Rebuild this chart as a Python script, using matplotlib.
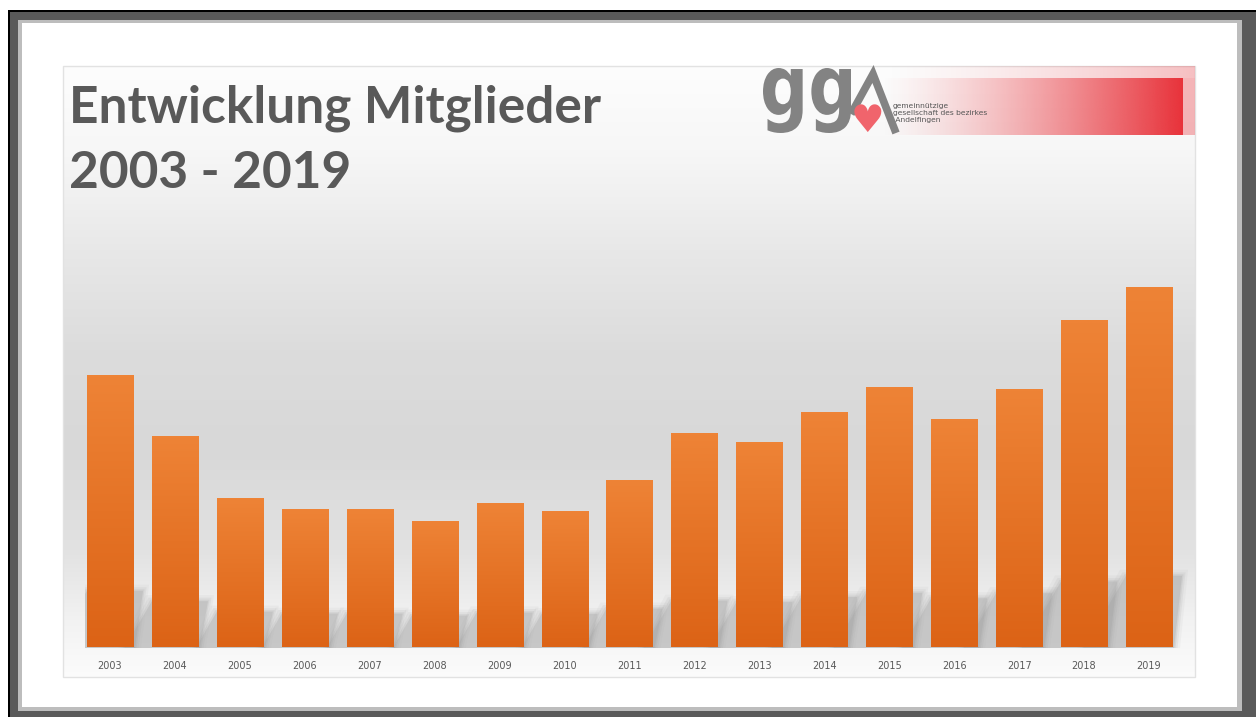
import matplotlib.pyplot as plt
import matplotlib.patches as mpatches
from matplotlib.textpath import TextPath
from matplotlib.font_manager import FontProperties
from matplotlib.transforms import Affine2D
import numpy as np

years = ["2003", "2004", "2005", "2006", "2007", "2008", "2009", "2010", "2011",
         "2012", "2013", "2014", "2015", "2016", "2017", "2018", "2019"]
# bar heights (no value axis shown)
members = [272, 211, 149, 138, 138, 126, 144, 136, 167,
           214, 205, 235, 260, 228, 258, 327, 360]

title = "Entwicklung Mitglieder\n2003 - 2019"
logo_sub = "gemeinnützige\ngesellschaft des bezirkes\n Andelfingen"

W, H = 1256, 717
fig = plt.figure(figsize=(W / 100, H / 100), dpi=100)
fig.patch.set_facecolor("white")

# full figure axes in pixel units for frame, panel, title and logo
bg = fig.add_axes([0, 0, 1, 1])
bg.set_xlim(0, W)
bg.set_ylim(H, 0)
bg.axis("off")

# frame: black line, dark grey band, light grey band
bg.add_patch(mpatches.Rectangle((8, 10), W, H, facecolor="black", edgecolor="none"))
bg.add_patch(mpatches.Rectangle((10, 12), W, H, facecolor="#5a5a5a", edgecolor="none"))
bg.add_patch(mpatches.Rectangle((18, 20), 1242 - 18, 711 - 20, facecolor="#bdbdbd", edgecolor="none"))
bg.add_patch(mpatches.Rectangle((22, 23), 1237 - 22, 707 - 23, facecolor="white", edgecolor="none"))

# panel background gradient
px0, px1, py0, py1 = 63, 1195, 66, 677
stops_y = [66, 150, 250, 350, 450, 550, 620, 677]
stops_v = [253, 247, 232, 220, 216, 226, 242, 252]
yy = np.arange(py0, py1)
vals = np.interp(yy, stops_y, stops_v) / 255.0
grad = np.repeat(vals[:, None], 2, axis=1)
bg.imshow(np.dstack([grad, grad, grad]), extent=(px0, px1, py1, py0),
          aspect="auto", interpolation="bilinear", zorder=1)
bg.add_patch(mpatches.Rectangle((px0, py0), px1 - px0, py1 - py0, facecolor="none",
                                edgecolor="#e2e2e2", linewidth=1, zorder=2))

# title
bg.text(69, 85, title, fontsize=37, fontweight="bold", color="#595959",
        family="Lato", va="top", ha="left", linespacing=1.45, zorder=5)

# logo: red gradient band
red = np.array([232, 50, 58]) / 255.0
lx = np.linspace(0, 1, 200)
alpha = lx ** 1.3
band = np.zeros((1, 200, 4))
band[0, :, :3] = red
band[0, :, 3] = alpha
bg.imshow(band, extent=(880, 1183, 135, 78), aspect="auto", interpolation="bilinear", zorder=3)
band2 = band.copy()
band2[0, :, 3] = 0.3 * alpha
bg.imshow(band2, extent=(880, 1195, 78, 66), aspect="auto", interpolation="bilinear", zorder=3)
bg.add_patch(mpatches.Rectangle((1183, 78), 12, 57, facecolor=red, alpha=0.35,
                                edgecolor="none", zorder=3))

# "gg" letters fitted into their box
tp = TextPath((0, 0), "gg", prop=FontProperties(family="DejaVu Sans", weight="bold"), size=1)
ext = tp.get_extents()
gx0, gx1, gy0, gy1 = 763, 851, 68, 133
tr = (Affine2D().translate(-ext.x0, -ext.y1)
      .scale((gx1 - gx0) / ext.width, -(gy1 - gy0) / ext.height)
      .translate(gx0, gy0))
bg.add_patch(mpatches.PathPatch(tr.transform_path(tp), facecolor="#838383",
                                edgecolor="none", zorder=4))
bg.plot([851, 873, 896], [114, 74, 133], color="#838383", linewidth=5.5,
        solid_joinstyle="miter", solid_capstyle="butt", zorder=4)
bg.text(867, 122, "\u2665", fontsize=27, color="#f0646c", family="DejaVu Sans",
        ha="center", va="center", zorder=5)
bg.text(893, 113, logo_sub, fontsize=5.4, color="#555555", ha="left", va="center",
        linespacing=1.15, zorder=5)

bg.set_xlim(0, W)
bg.set_ylim(H, 0)

# bar axes
spacing = (1149 - 110) / 16
left = (110 - px0) / spacing
right = (px1 - 1149) / spacing
base = 647
ax = fig.add_axes([px0 / W, 1 - base / H, (px1 - px0) / W, (base - py0) / H])
ax.set_facecolor("none")
x = np.arange(len(years))
bars = ax.bar(x, members, width=0.71, color="#e4711f", zorder=3)

# soft slanted shadows behind bars, clipped to the bar row
clip = mpatches.Rectangle((bars[0].get_x() - 2 / spacing, -5),
                          len(years) + 1, 200, transform=ax.transData)
for p in bars:
    x0, w, h = p.get_x(), p.get_width(), p.get_height()
    s = 0.17 * h + 10
    lft = 0.6 * s / spacing
    for k, al in [(6, 0.08), (3.5, 0.13), (1.5, 0.18), (0, 0.28)]:
        e = k / spacing
        pts = [(x0 - lft - e, -1), (x0 + w + (2 + k) / spacing, -1),
               (x0 + w + (10 + k) / spacing, s + k), (x0 - e, s + k)]
        poly = mpatches.Polygon(pts, closed=True, facecolor="#a0a0a0",
                                edgecolor="none", alpha=al, zorder=1)
        ax.add_patch(poly)
        poly.set_clip_path(clip)

# orange vertical gradient on every bar
top_c = np.array([238, 131, 54]) / 255.0
bot_c = np.array([220, 99, 22]) / 255.0
t = np.linspace(0, 1, 64)[:, None]
bar_grad = (top_c * (1 - t) + bot_c * t)[:, None, :]
for p in bars:
    x0, w, h = p.get_x(), p.get_width(), p.get_height()
    ax.imshow(bar_grad, extent=(x0, x0 + w, 0, h), aspect="auto",
              interpolation="bilinear", zorder=4)

ax.set_xlim(-left, len(years) - 1 + right)
ax.set_ylim(0, base - py0)
ax.set_xticks(x)
ax.set_xticklabels(years, fontsize=7, color="#595959")
ax.tick_params(axis="x", length=0, pad=10)
ax.set_yticks([])
for sp in ax.spines.values():
    sp.set_visible(False)

fig.savefig("out.png", dpi=100)
